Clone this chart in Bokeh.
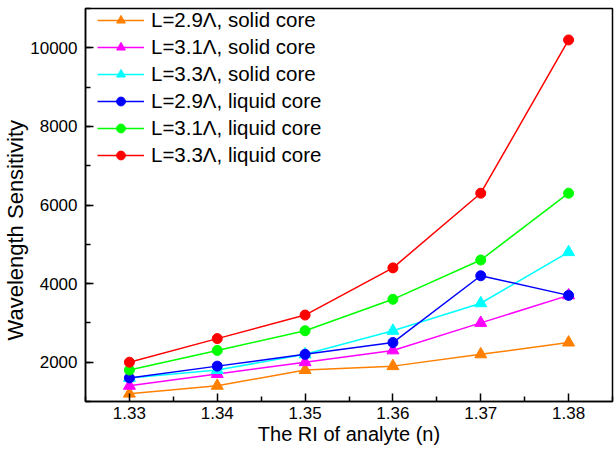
from bokeh.plotting import figure
from bokeh.models import Legend, LegendItem, FixedTicker, Range1d, Title
from bokeh.embed import file_html
from bokeh.resources import INLINE

ri = [1.33, 1.34, 1.35, 1.36, 1.37, 1.38]
s29_solid = [1200, 1400, 1800, 1900, 2200, 2500]
s31_solid = [1400, 1700, 2000, 2300, 3000, 3700]
s33_solid = [1600, 1800, 2200, 2800, 3500, 4800]
s29_liquid = [1600, 1900, 2200, 2500, 4200, 3700]
s31_liquid = [1800, 2300, 2800, 3600, 4600, 6300]
s33_liquid = [2000, 2600, 3200, 4400, 6300, 10200]

labels = ["L=2.9\u039b, solid core", "L=3.1\u039b, solid core", "L=3.3\u039b, solid core",
          "L=2.9\u039b, liquid core", "L=3.1\u039b, liquid core", "L=3.3\u039b, liquid core"]
colors = ["#FF8000", "#FF00FF", "#00FFFF", "#0000FF", "#00FF00", "#FF0000"]
markers = ["triangle", "triangle", "triangle", "circle", "circle", "circle"]
series = [s29_solid, s31_solid, s33_solid, s29_liquid, s31_liquid, s33_liquid]

x_ticks = [1.33, 1.34, 1.35, 1.36, 1.37, 1.38]
y_ticks = [2000, 4000, 6000, 8000, 10000]
x_title = "The RI of analyte (n)"
y_title = "Wavelength Sensitivity"

FONT = "Liberation Sans"

p = figure(width=614, height=450, output_backend="svg", toolbar_location=None,
           x_range=Range1d(1.325, 1.385), y_range=Range1d(1000, 11000),
           min_border_left=0, min_border_right=2, min_border_top=8, min_border_bottom=49)
p.xgrid.visible = False
p.ygrid.visible = False
p.outline_line_color = "black"
p.outline_line_width = 1.5
p.background_fill_color = "white"

items = []
for lab, col, mk, ys in zip(labels, colors, markers, series):
    r1 = p.line(ri, ys, line_color=col, line_width=1.5)
    size = 12 if mk == "triangle" else 10
    r2 = p.scatter(ri, ys, marker=mk, size=size, fill_color=col, line_color=col)
    items.append(LegendItem(label=lab, renderers=[r1, r2]))

legend = Legend(items=items, location=(12, 234), border_line_color=None,
                background_fill_alpha=0, label_text_font=FONT, label_text_font_size="20.5px",
                label_text_color="black", glyph_width=47, glyph_height=22, label_height=22,
                spacing=3, padding=0, margin=0, label_standoff=7)
p.add_layout(legend)

for ax in (p.xaxis[0], p.yaxis[0]):
    ax.axis_line_color = "black"
    ax.axis_line_width = 1.5
    ax.major_tick_line_color = "black"
    ax.minor_tick_line_color = "black"
    ax.major_tick_line_width = 1.5
    ax.minor_tick_line_width = 1.5
    ax.major_tick_in = 8
    ax.major_tick_out = 0
    ax.minor_tick_in = 5
    ax.minor_tick_out = 0
    ax.major_label_text_font = FONT
    ax.major_label_text_font_size = "17px"
    ax.major_label_text_color = "black"
    ax.axis_label_text_font = FONT
    ax.axis_label_text_font_style = "normal"
    ax.axis_label_text_color = "black"

p.xaxis.ticker = FixedTicker(ticks=x_ticks, minor_ticks=[1.325 + 0.01 * i for i in range(7)])
p.yaxis.ticker = FixedTicker(ticks=y_ticks, minor_ticks=[1000 * i for i in range(1, 12)])
p.xaxis.major_label_overrides = {t: f"{t:.2f}" for t in x_ticks}
p.xaxis.axis_label = x_title
p.xaxis.axis_label_text_font_size = "20px"
p.xaxis.major_label_standoff = 5
p.yaxis.major_label_standoff = 8
p.xaxis.axis_label_standoff = 1

ytitle = Title(text=y_title, align="left", offset=61, standoff=0,
               text_font=FONT, text_font_size="22px", text_font_style="normal",
               text_color="black")
p.add_layout(ytitle, "left")

open("out.html", "w").write(file_html(p, INLINE))
